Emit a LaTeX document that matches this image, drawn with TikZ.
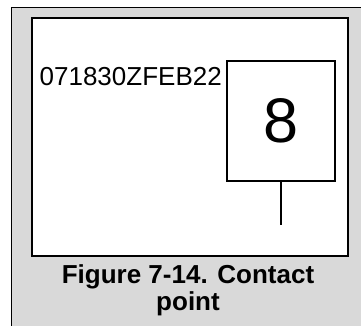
\documentclass[tikz,border=0pt]{standalone}
\usepackage{fontspec}
\setmainfont{Liberation Sans}
\usetikzlibrary{positioning}
\definecolor{panelgray}{RGB}{217,217,217}
\tikzset{
  field/.style={draw, fill=white, line width=1.8pt, minimum width=316pt, minimum height=238pt, inner sep=0pt},
  flagbox/.style={draw, fill=white, line width=1.5pt, minimum width=108pt, minimum height=120pt, inner sep=0pt},
  dtg/.style={inner sep=0pt, font=\fontsize{26}{30}\selectfont},
  caption/.style={inner sep=0pt, align=center, font=\bfseries\fontsize{26}{27}\selectfont}
}
\begin{document}
\begin{tikzpicture}[x=1pt,y=-1pt]
    \useasboundingbox (0,0) rectangle (361,326);

    % --- Gray panel ---
    \fill[panelgray] (11.5,7.5) rectangle (361,326);
    \draw[line width=1.5pt] (11.5,326) -- (11.5,7.5) -- (361,7.5);

    % --- White field ---
    \node[field] (field) at (190,137) {};

    % --- Contact point flag ---
    \node[flagbox] (flag) at (281,121) {\fontsize{63}{63}\selectfont 8};
    \coordinate (pole) at (281,225);
    \draw[line width=1.3pt] (flag.south) -- (pole);

    % --- Date-time group ---
    \node[dtg, anchor=base east] (dtg) at (222,86) {071830ZFEB22};

    % --- Caption ---
    \node[caption] (cap) at (188,290) {Figure 7-14. Contact\\point};

\end{tikzpicture}
\end{document}
